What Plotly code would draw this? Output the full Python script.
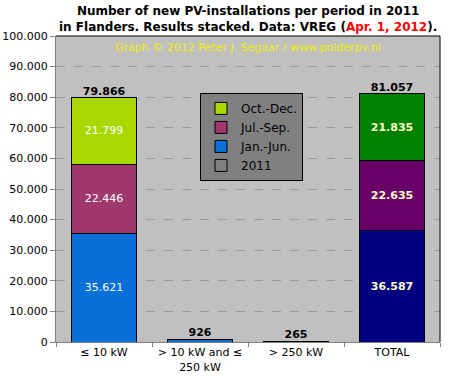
import plotly.graph_objects as go

categories = ["≤ 10 kW", "> 10 kW and ≤<br>250 kW", "> 250 kW", "TOTAL"]
jan_jun = [35621, 778, 188, 36587]
jul_sep = [22446, 120, 69, 22635]
oct_dec = [21799, 28, 8, 21835]
totals = [79866, 926, 265, 81057]

col_jan = ["#0A6FD6", "#0A6FD6", "#0A6FD6", "#000080"]
col_jul = ["#A0386E", "#A0386E", "#A0386E", "#680068"]
col_oct = ["#A8D800", "#A8D800", "#A8D800", "#008000"]

FONT = "DejaVu Sans"


def fmt(v):
    return f"{v:,}".replace(",", ".")


def labels(vals):
    out = []
    for i, v in enumerate(vals):
        if v < 5000:
            out.append("")
        elif categories[i] == "TOTAL":
            out.append(f"<b>{fmt(v)}</b>")
        else:
            out.append(fmt(v))
    return out


def tcolors(vals):
    return ["#FFFFC8" if c == "TOTAL" else "#FFFFFF" for c in categories]


fig = go.Figure()
for rank, (name, vals, cols) in enumerate([("Jan.-Jun.", jan_jun, col_jan),
                                           ("Jul.-Sep.", jul_sep, col_jul),
                                           ("Oct.-Dec.", oct_dec, col_oct)]):
    fig.add_trace(go.Bar(
        x=categories, y=vals, name=name, legendrank=30 - rank * 10,
        marker=dict(color=cols, line=dict(color="#000000", width=1)),
        text=labels(vals), textposition="inside", insidetextanchor="middle",
        textfont=dict(color=tcolors(vals), size=11, family=FONT),
        constraintext="none", hoverinfo="skip",
    ))

# legend-only entry "2011"
fig.add_trace(go.Bar(
    x=categories, y=[None] * len(categories), name="2011", legendrank=40,
    marker=dict(color="rgba(0,0,0,0)", line=dict(color="#000000", width=1)),
    hoverinfo="skip",
))

fig.add_trace(go.Scatter(
    x=categories, y=totals, mode="text",
    text=[f"<b>{fmt(v)}</b>" for v in totals], textposition="top center",
    textfont=dict(color="#000000", size=11, family=FONT),
    showlegend=False, hoverinfo="skip", cliponaxis=False,
))

fig.update_layout(
    width=453, height=381,
    barmode="stack", bargap=0.33,
    separators=",.",
    paper_bgcolor="#FFFFFF", plot_bgcolor="#C0C0C0",
    margin=dict(l=56, r=13, t=36, b=39, autoexpand=False),
    font=dict(family=FONT, size=11, color="#000000"),
    showlegend=True,
    legend=dict(
        x=0.375, y=0.814, xanchor="left", yanchor="top",
        bgcolor="#808080", bordercolor="#000000", borderwidth=1,
        font=dict(size=12, family=FONT, color="#000000"),
        traceorder="normal", tracegroupgap=0,
    ),
    xaxis=dict(
        automargin=False,
        showline=True, linecolor="#808080", linewidth=1,
        ticks="outside", ticklen=4, tickcolor="#808080", tickson="boundaries",
        tickfont=dict(size=11, family=FONT, color="#000000"),
        showgrid=False,
    ),
    yaxis=dict(
        automargin=False,
        range=[0, 100000], dtick=10000, tickformat=",d",
        showline=True, linecolor="#808080", linewidth=1,
        ticks="outside", ticklen=5, tickcolor="#808080",
        showgrid=True, gridcolor="#9A9A9A", griddash="dash", gridwidth=1,
        tickfont=dict(size=11, family=FONT, color="#000000"),
        zeroline=False,
    ),
)

fig.add_annotation(
    xref="paper", yref="paper", x=0.5, y=1, yanchor="bottom", yshift=0,
    text="<b>Number of new PV-installations per period in 2011<br>in Flanders. Results stacked. Data: VREG (<span style='color:#FF0000'>Apr. 1, 2012</span>).</b>",
    showarrow=False, font=dict(size=12, family=FONT, color="#000000"),
)
fig.add_annotation(
    xref="paper", yref="paper", x=0.5, y=0.99, yanchor="top",
    text="Graph © 2012 Peter J. Segaar / www.polderpv.nl",
    showarrow=False, font=dict(size=11, family=FONT, color="#F0F000"),
)
fig.add_shape(type="line", xref="paper", yref="paper", x0=0, x1=1, y0=1, y1=1,
              line=dict(color="#000000", width=1))
fig.add_shape(type="line", xref="paper", yref="paper", x0=1, x1=1, y0=0, y1=1,
              line=dict(color="#000000", width=1))

fig.write_html("out.html", config={"displayModeBar": False},
               post_script="document.body.style.margin='0';document.body.style.padding='0';")
